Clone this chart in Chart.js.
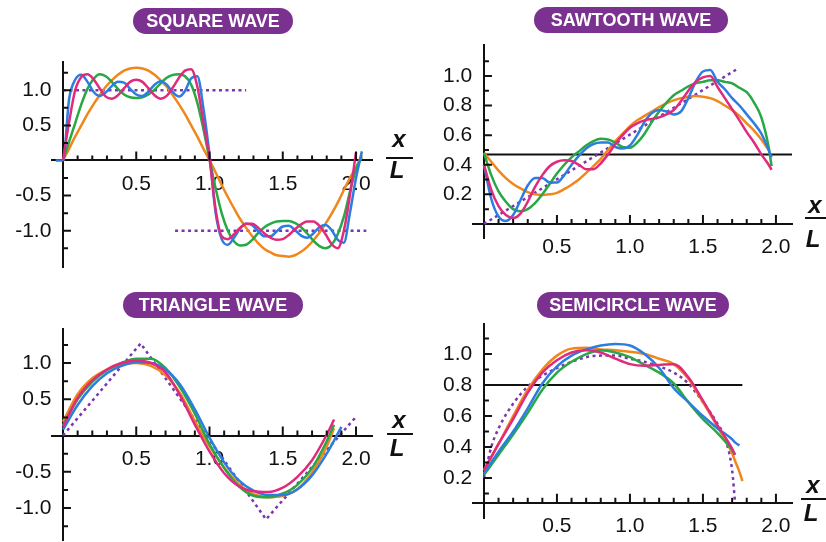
<!DOCTYPE html>
<html>
<head>
<meta charset="utf-8">
<script src="https://cdn.jsdelivr.net/npm/chart.js@4.4.0/dist/chart.umd.min.js"></script>
<style>
  body { margin: 0; width: 826px; height: 542px; overflow: hidden; background: #fff; position: relative;
         font-family: "Liberation Sans", Arial, sans-serif; }
  canvas { position: absolute; left: -40px; top: -40px; }
  .pill { position: absolute; height: 26px; line-height: 26px; border-radius: 13px; background: #7b318f;
          color: #fff; font-weight: bold; font-size: 18px; text-align: center; }
  .fr { position: absolute; width: 40px; text-align: center; font-style: italic; font-weight: bold;
        font-size: 24px; line-height: 24px; color: #111; }
  .bar { position: absolute; height: 2px; background: #111; }
</style>
</head>
<body>
<canvas id="square" width="906" height="622"></canvas>
<canvas id="saw" width="906" height="622"></canvas>
<canvas id="tri" width="906" height="622"></canvas>
<canvas id="semi" width="906" height="622"></canvas>

<div class="pill" style="left:133px;top:8px;width:160px">SQUARE WAVE</div>
<div class="pill" style="left:534px;top:7px;width:194px">SAWTOOTH WAVE</div>
<div class="pill" style="left:123px;top:292px;width:180px">TRIANGLE WAVE</div>
<div class="pill" style="left:537px;top:292px;width:192px">SEMICIRCLE WAVE</div>

<script>
// colours of the partial sums
const ORANGE = "#f0871c", GREEN = "#27a845", BLUE = "#2b7de0", PINK = "#e02a7c", PURPLE = "#7a35b0";

// ---- square wave ----
const sqX = [-0.05, 0, 0.042, 0.083, 0.125, 0.167, 0.208, 0.25, 0.292, 0.333, 0.375, 0.417, 0.458, 0.5,
  0.542, 0.583, 0.625, 0.667, 0.708, 0.75, 0.792, 0.833, 0.875, 0.917, 0.958, 1.0, 1.042, 1.083, 1.125,
  1.167, 1.208, 1.25, 1.292, 1.333, 1.375, 1.417, 1.458, 1.5, 1.542, 1.583, 1.625, 1.667, 1.708, 1.75,
  1.792, 1.833, 1.875, 1.917, 1.958, 2.0, 2.04];
const sqOrange = [null, 0, 0.17, 0.34, 0.50, 0.66, 0.80, 0.93, 1.05, 1.14, 1.22, 1.28, 1.31, 1.32, 1.31,
  1.28, 1.22, 1.14, 1.05, 0.93, 0.80, 0.66, 0.50, 0.34, 0.17, 0, -0.17, -0.35, -0.52, -0.68, -0.83, -0.96,
  -1.08, -1.18, -1.26, -1.31, -1.35, -1.36, -1.37, -1.35, -1.30, -1.23, -1.14, -1.03, -0.90, -0.76, -0.60,
  -0.42, -0.25, -0.10, 0.08];
const sqGreen = [null, 0, 0.27, 0.53, 0.80, 1.02, 1.16, 1.23, 1.20, 1.12, 1.02, 0.94, 0.90, 0.89, 0.90,
  0.94, 1.01, 1.10, 1.18, 1.22, 1.23, 1.20, 1.08, 0.82, 0.45, 0.02, -0.40, -0.75, -1.00, -1.15, -1.21,
  -1.20, -1.13, -1.03, -0.95, -0.90, -0.87, -0.86, -0.86, -0.89, -0.95, -1.04, -1.14, -1.22, -1.25, -1.20,
  -1.05, -0.80, -0.45, -0.12, 0.05];
const sqBlue = [0, 0, 0.88, 1.15, 1.22, 1.12, 0.98, 0.92, 0.97, 1.06, 1.12, 1.11, 1.02, 0.94, 0.92, 0.98,
  1.08, 1.13, 1.08, 0.97, 0.91, 0.99, 1.17, 1.20, 0.75, 0.08, -0.75, -1.12, -1.20, -1.10, -0.97, -0.90,
  -0.92, -1.01, -1.08, -1.08, -1.01, -0.94, -0.93, -0.99, -1.07, -1.10, -1.04, -0.95, -0.92, -0.99, -1.13,
  -1.17, -0.75, -0.25, 0.13];
const sqPink = [null, 0, 0.55, 1.00, 1.19, 1.23, 1.16, 1.03, 0.91, 0.88, 0.93, 1.03, 1.12, 1.15, 1.12,
  1.03, 0.93, 0.88, 0.92, 1.04, 1.18, 1.28, 1.30, 1.05, 0.55, 0.03, -0.70, -1.08, -1.12, -1.05, -0.96,
  -0.90, -0.90, -0.96, -1.04, -1.10, -1.13, -1.12, -1.06, -0.98, -0.91, -0.87, -0.87, -0.93, -1.05, -1.19,
  -1.25, -1.00, -0.50, 0.12, null];
const sqRefHighX = [0, 1.25], sqRefHighY = [1, 1];
const sqRefLowX = [0.765, 2.07], sqRefLowY = [-1, -1];
const sqXTicks = [0.1, 0.2, 0.3, 0.4, 0.5, 0.6, 0.7, 0.8, 0.9, 1.0, 1.1, 1.2, 1.3, 1.4, 1.5, 1.6, 1.7, 1.8, 1.9, 2.0];
const sqXLabels = [0.5, 1.0, 1.5, 2.0];
const sqYTicks = [-1.25, -1, -0.75, -0.5, -0.25, 0.25, 0.5, 0.75, 1, 1.25];
const sqYLabels = [-1.0, -0.5, 0.5, 1.0];

// ---- sawtooth wave ----
const stX = [0, 0.05, 0.1, 0.15, 0.2, 0.25, 0.3, 0.35, 0.4, 0.45, 0.5, 0.55, 0.6, 0.65, 0.7, 0.75, 0.8,
  0.85, 0.9, 0.95, 1.0, 1.05, 1.1, 1.15, 1.2, 1.25, 1.3, 1.35, 1.4, 1.45, 1.5, 1.55, 1.6, 1.65, 1.7, 1.75,
  1.8, 1.85, 1.9, 1.95, 1.97];
const stOrange = [0.48, 0.42, 0.36, 0.31, 0.27, 0.24, 0.215, 0.20, 0.195, 0.20, 0.21, 0.235, 0.265, 0.30,
  0.345, 0.39, 0.44, 0.50, 0.56, 0.61, 0.66, 0.70, 0.73, 0.76, 0.79, 0.815, 0.835, 0.85, 0.86, 0.865, 0.86,
  0.85, 0.83, 0.80, 0.77, 0.73, 0.68, 0.63, 0.57, 0.50, null];
const stGreen = [0.48, 0.33, 0.22, 0.15, 0.10, 0.085, 0.10, 0.14, 0.20, 0.27, 0.34, 0.40, 0.45, 0.49, 0.53,
  0.56, 0.575, 0.57, 0.55, 0.52, 0.515, 0.55, 0.61, 0.69, 0.76, 0.82, 0.87, 0.90, 0.93, 0.95, 0.96, 0.97,
  0.97, 0.96, 0.95, 0.92, 0.89, 0.82, 0.72, 0.52, 0.39];
const stBlue = [0.40, 0.17, 0.05, 0.02, 0.06, 0.16, 0.26, 0.31, 0.31, 0.28, 0.28, 0.33, 0.40, 0.46, 0.51,
  0.54, 0.55, 0.55, 0.52, 0.51, 0.53, 0.60, 0.69, 0.75, 0.77, 0.76, 0.74, 0.76, 0.85, 0.96, 1.03, 1.04,
  0.96, 0.91, 0.85, 0.80, 0.74, 0.68, 0.61, 0.50, 0.45];
const stPink = [0.40, 0.23, 0.12, 0.06, 0.04, 0.07, 0.15, 0.25, 0.33, 0.39, 0.42, 0.43, 0.425, 0.40, 0.37,
  0.37, 0.41, 0.47, 0.54, 0.60, 0.65, 0.68, 0.70, 0.71, 0.72, 0.74, 0.77, 0.83, 0.90, 0.96, 0.99, 1.00,
  0.925, 0.85, 0.775, 0.70, 0.62, 0.55, 0.47, 0.40, 0.365];
const stRefX = [0, 1.74], stRefY = [0, 1.05];
const stMeanX = [0, 2.11], stMeanY = [0.47, 0.47];
const stXTicks = [0.1, 0.2, 0.3, 0.4, 0.5, 0.6, 0.7, 0.8, 0.9, 1.0, 1.1, 1.2, 1.3, 1.4, 1.5, 1.6, 1.7, 1.8, 1.9, 2.0];
const stXLabels = [0.5, 1.0, 1.5, 2.0];
const stYTicks = [0.1, 0.2, 0.3, 0.4, 0.5, 0.6, 0.7, 0.8, 0.9, 1.0, 1.1];
const stYLabels = [0.2, 0.4, 0.6, 0.8, 1.0];

// ---- triangle wave ----
const trX = [0, 0.1, 0.2, 0.3, 0.4, 0.5, 0.6, 0.7, 0.8, 0.9, 1.0, 1.1, 1.2, 1.3, 1.4, 1.5, 1.6, 1.7, 1.8, 1.85, 1.9];
const trOrange = [0.19, 0.57, 0.79, 0.91, 0.98, 1.00, 0.96, 0.83, 0.58, 0.20, -0.15, -0.44, -0.67, -0.81,
  -0.85, -0.83, -0.74, -0.51, -0.15, 0.10, null];
const trGreen = [0.14, 0.50, 0.74, 0.90, 1.00, 1.06, 1.06, 0.93, 0.66, 0.30, -0.12, -0.45, -0.70, -0.83,
  -0.85, -0.80, -0.68, -0.45, -0.08, 0.15, null];
const trPink = [0.12, 0.52, 0.76, 0.91, 1.00, 1.03, 1.00, 0.87, 0.55, 0.15, -0.22, -0.52, -0.70, -0.77,
  -0.78, -0.72, -0.57, -0.34, 0.01, 0.22, null];
const trBlue = [0.08, 0.42, 0.68, 0.86, 0.96, 1.01, 1.00, 0.91, 0.70, 0.36, -0.03, -0.37, -0.62, -0.76,
  -0.82, -0.82, -0.74, -0.55, -0.25, -0.07, 0.12];
const trRefX = [0, 0.53, 1.386, 2.005], trRefY = [0, 1.27, -1.156, 0.27];
const trXTicks = sqXTicks, trXLabels = sqXLabels;
const trYTicks = [-1.25, -1, -0.75, -0.5, -0.25, 0.25, 0.5, 0.75, 1, 1.25];
const trYLabels = [-1.0, -0.5, 0.5, 1.0];

// ---- semicircle wave ----
const scX = [0, 0.1, 0.2, 0.3, 0.4, 0.5, 0.6, 0.7, 0.8, 0.9, 1.0, 1.1, 1.2, 1.3, 1.4, 1.5, 1.6, 1.7, 1.72, 1.75, 1.77];
const scOrange = [0.25, 0.42, 0.60, 0.77, 0.90, 0.99, 1.035, 1.04, 1.03, 1.025, 1.015, 1.00, 0.97, 0.935,
  0.84, 0.69, 0.53, 0.36, 0.31, 0.24, 0.18];
const scPink = [0.25, 0.42, 0.58, 0.75, 0.88, 0.96, 1.01, 1.025, 1.01, 0.97, 0.935, 0.925, 0.93, 0.935,
  0.85, 0.70, 0.54, 0.39, 0.35, null, null];
const scGreen = [0.22, 0.35, 0.48, 0.62, 0.77, 0.88, 0.95, 1.00, 1.025, 1.01, 0.98, 0.93, 0.88, 0.81, 0.69,
  0.58, 0.49, 0.38, 0.35, null, null];
const scBlue = [0.23, 0.37, 0.50, 0.65, 0.81, 0.92, 0.99, 1.03, 1.055, 1.065, 1.055, 1.00, 0.91, 0.78, 0.69,
  0.60, 0.52, 0.45, 0.43, 0.41, null];
const scRefX = [0, 0.05, 0.1, 0.2, 0.3, 0.4, 0.5, 0.6, 0.7, 0.8, 0.9, 1.0, 1.1, 1.2, 1.3, 1.4, 1.5, 1.6, 1.65, 1.7, 1.72];
const scRefY = [0.2, 0.40, 0.52, 0.68, 0.79, 0.86, 0.91, 0.95, 0.98, 0.99, 0.99, 0.97, 0.95, 0.92, 0.88,
  0.81, 0.69, 0.55, 0.46, 0.25, 0.04];
const scMeanX = [0, 1.77], scMeanY = [0.8, 0.8];
const scXTicks = stXTicks, scXLabels = stXLabels;
const scYTicks = [0.1, 0.2, 0.3, 0.4, 0.5, 0.6, 0.7, 0.8, 0.9, 1.0, 1.1];
const scYLabels = [0.2, 0.4, 0.6, 0.8, 1.0];

const tickFont = { family: "'Liberation Sans', Arial, sans-serif", size: 21 };

function curve(xs, ys, color) {
  return { data: xs.map((x, i) => ({ x: x, y: ys[i] })), borderColor: color, borderWidth: 2.5,
           cubicInterpolationMode: "monotone", fill: false };
}
function dotted(xs, ys, smooth) {
  let d = curve(xs, ys, PURPLE);
  d.borderDash = [3, 3.5];
  if (!smooth) { d.cubicInterpolationMode = "default"; d.tension = 0; }
  return d;
}
function rule(xs, ys) {
  let d = curve(xs, ys, "#111");
  d.borderWidth = 2; d.cubicInterpolationMode = "default"; d.tension = 0;
  return d;
}

// small inward tick marks, longer where a label sits
const tickMarks = {
  id: "tickMarks",
  afterDraw(chart) {
    const c = chart.ctx, xs = chart.scales.x, ys = chart.scales.y;
    const x0 = xs.getPixelForValue(0);
    const y0 = ys.getPixelForValue(chart.options.scales.x.position.y);
    c.save();
    c.strokeStyle = "#111";
    c.lineWidth = 2;
    c.beginPath();
    for (let t of xs.ticks) {
      let px = xs.getPixelForValue(t.value);
      c.moveTo(px, y0);
      c.lineTo(px, y0 - (t.label ? 9 : 5));
    }
    for (let t of ys.ticks) {
      let py = ys.getPixelForValue(t.value);
      c.moveTo(x0, py);
      c.lineTo(x0 + (t.label ? 8 : 5), py);
    }
    c.stroke();
    c.restore();
  }
};

function panel(id, area, xr, yr, xAt, xTicks, xLabels, yTicks, yLabels, datasets) {
  // y labels sit right-aligned on the axis, the trailing gap keeps them off it
  const lab = (list, gap) => (v) => list.some(l => Math.abs(l - v) < 1e-9) ? v.toFixed(1) + gap : "";
  new Chart(document.getElementById(id), {
    type: "line",
    data: { datasets: datasets },
    options: {
      responsive: false,
      animation: false,
      events: [],
      layout: { padding: { left: area[0] + 40, top: area[1] + 40, right: 826 - area[2] + 40, bottom: 542 - area[3] + 40 } },
      plugins: { legend: { display: false }, tooltip: { enabled: false } },
      elements: { point: { radius: 0 } },
      scales: {
        x: {
          type: "linear", position: { y: xAt }, min: xr[0], max: xr[1], z: 1,
          grid: { display: false }, border: { display: true, color: "#111", width: 2 },
          afterBuildTicks: (s) => { s.ticks = xTicks.map(v => ({ value: v })); },
          ticks: { autoSkip: false, maxRotation: 0, padding: 3, color: "#111", font: tickFont, callback: lab(xLabels, "") }
        },
        y: {
          type: "linear", position: { x: 0 }, min: yr[0], max: yr[1], z: 1,
          grid: { display: false }, border: { display: true, color: "#111", width: 2 },
          afterBuildTicks: (s) => { s.ticks = yTicks.map(v => ({ value: v })); },
          ticks: { autoSkip: false, color: "#111", font: tickFont, callback: lab(yLabels, "  ") }
        }
      }
    },
    plugins: [tickMarks]
  });
}

panel("square", [52, 62, 372, 267], [-0.075, 2.109], [-1.517, 1.403], 0,
  sqXTicks, sqXLabels, sqYTicks, sqYLabels, [
    curve(sqX, sqPink, PINK), curve(sqX, sqBlue, BLUE), curve(sqX, sqGreen, GREEN), curve(sqX, sqOrange, ORANGE),
    dotted(sqRefHighX, sqRefHighY), dotted(sqRefLowX, sqRefLowY)
  ]);

panel("saw", [473, 45, 792, 238], [-0.075, 2.11], [-0.095, 1.209], 0,
  stXTicks, stXLabels, stYTicks, stYLabels, [
    curve(stX, stPink, PINK), curve(stX, stBlue, BLUE), curve(stX, stGreen, GREEN), curve(stX, stOrange, ORANGE),
    dotted(stRefX, stRefY), rule(stMeanX, stMeanY)
  ]);

panel("tri", [52, 329, 372, 540], [-0.075, 2.109], [-1.441, 1.469], 0,
  trXTicks, trXLabels, trYTicks, trYLabels, [
    curve(trX, trPink, PINK), curve(trX, trBlue, BLUE), curve(trX, trGreen, GREEN), curve(trX, trOrange, ORANGE),
    dotted(trRefX, trRefY)
  ]);

panel("semi", [473, 324, 792, 518], [-0.075, 2.11], [-0.058, 1.194], 0.04,
  scXTicks, scXLabels, scYTicks, scYLabels, [
    curve(scX, scPink, PINK), curve(scX, scBlue, BLUE), curve(scX, scGreen, GREEN), curve(scX, scOrange, ORANGE),
    dotted(scRefX, scRefY, true), rule(scMeanX, scMeanY)
  ]);

// x / L fraction next to each x axis
function fraction(cx, xBase, lineY, lineL, lineR, lBase) {
  const top = document.createElement("div");
  top.className = "fr"; top.textContent = "x";
  top.style.left = (cx - 20) + "px"; top.style.top = (xBase - 20.3) + "px";
  const bar = document.createElement("div");
  bar.className = "bar";
  bar.style.left = lineL + "px"; bar.style.width = (lineR - lineL) + "px"; bar.style.top = (lineY - 1) + "px";
  const bot = document.createElement("div");
  bot.className = "fr"; bot.textContent = "L";
  bot.style.left = (cx - 22) + "px"; bot.style.top = (lBase - 20.3) + "px";
  document.body.append(top, bar, bot);
}
fraction(399, 147, 158, 386, 413, 178);
fraction(815, 213, 218, 805, 826, 247);
fraction(399, 428, 434, 387, 413, 456);
fraction(813, 493, 499, 801, 826, 521);
</script>
</body>
</html>
